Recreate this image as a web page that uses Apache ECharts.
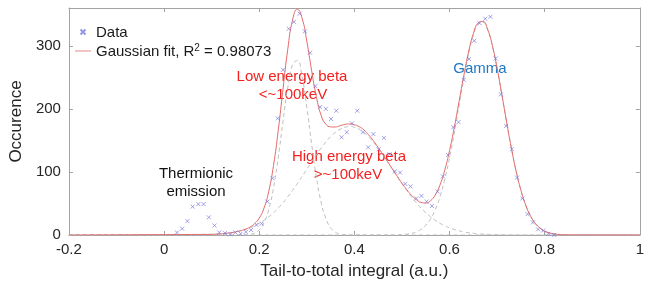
<!DOCTYPE html>
<html>
<head>
<meta charset="utf-8">
<script src="https://cdn.jsdelivr.net/npm/echarts@6/dist/echarts.min.js"></script>
<style>
  html, body { margin: 0; padding: 0; background: #fff; }
  #chart { width: 647px; height: 286px; }
</style>
</head>
<body>
<div id="chart"></div>
<script>
// measured points (Data)
var dataX = [0.027, 0.038, 0.049, 0.060, 0.072, 0.083, 0.094, 0.106, 0.116,
  0.128, 0.139, 0.150, 0.161, 0.172, 0.183, 0.194, 0.205,
  0.217, 0.228, 0.239, 0.250, 0.262, 0.273, 0.285, 0.296,
  0.307, 0.318, 0.328, 0.340, 0.351, 0.362, 0.373, 0.384,
  0.395, 0.406, 0.418, 0.429, 0.440, 0.451, 0.462, 0.474,
  0.485, 0.496, 0.507, 0.518, 0.530, 0.541, 0.552, 0.563,
  0.575, 0.586, 0.597, 0.608, 0.619, 0.630, 0.641, 0.652,
  0.663, 0.675, 0.686, 0.697, 0.708, 0.719, 0.731, 0.742,
  0.753, 0.764, 0.775, 0.786, 0.797, 0.808, 0.820];
var dataY = [4, 10, 22, 45, 49, 49, 28, 15, 4,
  3, 1, 4, 2, 5, 8, 16, 18,
  53, 90, 185, 262, 327, 338, 351, 323,
  289, 236, 203, 200, 184, 197, 155, 163,
  177, 197, 163, 139, 160, 136, 154, 128,
  101, 99, 81, 77, 58, 62, 53, 46,
  69, 93, 127, 171, 179, 246, 279, 308,
  336, 343, 346, 280, 223, 173, 136, 91,
  58, 33, 20, 9, 7, 2, 0];

// fit curves, 0.10 .. 0.86
var fitX = [0.10, 0.11, 0.12, 0.13, 0.14, 0.15, 0.16, 0.17, 0.18, 0.19,
  0.20, 0.21, 0.22, 0.23, 0.24, 0.25, 0.26, 0.27, 0.28, 0.29,
  0.30, 0.31, 0.32, 0.33, 0.34, 0.35, 0.36, 0.37, 0.38, 0.39,
  0.40, 0.41, 0.42, 0.43, 0.44, 0.45, 0.46, 0.47, 0.48, 0.49,
  0.50, 0.51, 0.52, 0.53, 0.54, 0.55, 0.56, 0.57, 0.58, 0.59,
  0.60, 0.61, 0.62, 0.63, 0.64, 0.65, 0.66, 0.67, 0.68, 0.69,
  0.70, 0.71, 0.72, 0.73, 0.74, 0.75, 0.76, 0.77, 0.78, 0.79,
  0.80, 0.81, 0.82, 0.83, 0.84, 0.85, 0.86];
var fitLow = [0, 0, 0, 0, 0, 0, 0, 0.3, 1.0, 3.1,
  8.2, 19.3, 40.3, 74.8, 123.2, 180.2, 234.1, 270.0, 276.6, 251.4,
  202.9, 145.5, 92.6, 52.3, 26.3, 11.7, 4.6, 1.6, 0.5, 0,
  0, 0, 0, 0, 0, 0, 0, 0, 0, 0,
  0, 0, 0, 0, 0, 0, 0, 0, 0, 0,
  0, 0, 0, 0, 0, 0, 0, 0, 0, 0,
  0, 0, 0, 0, 0, 0, 0, 0, 0, 0,
  0, 0, 0, 0, 0, 0, 0];
var fitHigh = [1.0, 1.4, 1.9, 2.7, 3.6, 4.9, 6.6, 8.7, 11.3, 14.6,
  18.5, 23.3, 28.9, 35.4, 42.9, 51.3, 60.6, 70.7, 81.5, 92.8,
  104.3, 115.9, 127.1, 137.8, 147.4, 155.8, 162.7, 167.8, 170.9, 172.0,
  170.9, 167.8, 162.7, 155.8, 147.4, 137.8, 127.1, 115.9, 104.3, 92.8,
  81.5, 70.7, 60.6, 51.3, 42.9, 35.4, 28.9, 23.3, 18.5, 14.6,
  11.3, 8.7, 6.6, 4.9, 3.6, 2.7, 1.9, 1.4, 1.0, 0.7,
  0.5, 0.3, 0.2, 0.1, 0, 0, 0, 0, 0, 0,
  0, 0, 0, 0, 0, 0, 0];
var fitGamma = [0, 0, 0, 0, 0, 0, 0, 0, 0, 0,
  0, 0, 0, 0, 0, 0, 0, 0, 0, 0,
  0, 0, 0, 0, 0, 0, 0, 0, 0, 0,
  0, 0, 0, 0, 0, 0, 0, 0, 0, 0,
  0.6, 1.3, 2.5, 4.8, 8.8, 15.3, 25.3, 40.2, 60.9, 88.4,
  122.4, 161.9, 205.0, 247.9, 286.6, 316.6, 334.3, 337.3, 325.3, 299.8,
  264.1, 222.4, 179.0, 137.7, 101.2, 71.1, 47.7, 30.6, 18.8, 11.0,
  6.2, 3.3, 1.7, 0.8, 0.4, 0.2, 0.1];
var fitSum = [1.0, 1.4, 1.9, 2.7, 3.6, 4.9, 6.6, 9.0, 12.3, 17.7,
  26.7, 42.6, 69.2, 110.2, 166.1, 231.5, 294.7, 340.7, 358.1, 344.2,
  307.2, 261.4, 219.7, 190.1, 175.7, 171.5, 171.3, 173.4, 175.4, 176.1,
  174.9, 171.8, 166.7, 158.8, 149.4, 138.8, 127.6, 116.2, 104.5, 93.1,
  82.1, 72.0, 63.1, 56.1, 51.7, 50.7, 54.2, 63.5, 79.4, 103.0,
  133.7, 170.6, 211.6, 252.8, 290.2, 319.3, 336.2, 338.7, 326.3, 300.5,
  264.6, 222.7, 179.2, 137.8, 101.2, 71.1, 47.7, 30.6, 18.8, 11.0,
  6.2, 3.3, 1.7, 0.8, 0.4, 0.2, 0.1];

var FONT = 'Liberation Sans, Arial, sans-serif';
var AXIS_GREY = '#a3a3a3';
var FIT_NAME = 'Gaussian fit, R\u00b2 = 0.98073';

function pairs(xs, ys) {
  return xs.map(function (x, i) { return [x, ys[i]]; });
}
// curves run along the baseline to both ends of the axis
function curve(ys) {
  return [[-0.2, 0]].concat(pairs(fitX, ys)).concat([[1, 0]]);
}

var myChart = echarts.init(document.getElementById('chart'));

function xAxisCfg(pos, labels) {
  return {
    type: 'value', position: pos, min: -0.2, max: 1, interval: 0.2,
    axisLine: { show: true, onZero: false, lineStyle: { color: AXIS_GREY, width: 1 } },
    axisTick: { show: true, inside: true, length: 4, lineStyle: { color: AXIS_GREY } },
    axisLabel: { show: labels, color: '#262626', fontSize: 15, fontFamily: FONT, margin: 7 },
    splitLine: { show: false }
  };
}
function yAxisCfg(pos, labels) {
  return {
    type: 'value', position: pos, min: 0, max: 360, interval: 100,
    axisLine: { show: true, onZero: false, lineStyle: { color: AXIS_GREY, width: 1 } },
    axisTick: { show: true, inside: true, length: 4, lineStyle: { color: AXIS_GREY } },
    axisLabel: {
      show: labels, color: '#262626', fontSize: 15, fontFamily: FONT, margin: 8,
      showMaxLabel: false,
      formatter: function (v) { return v % 100 === 0 ? String(v) : ''; }
    },
    splitLine: { show: false }
  };
}

var xBottom = xAxisCfg('bottom', true);
xBottom.name = 'Tail-to-total integral (a.u.)';
xBottom.nameLocation = 'middle';
xBottom.nameGap = 28;
xBottom.nameTextStyle = { color: '#262626', fontSize: 17, fontFamily: FONT };

var yLeft = yAxisCfg('left', true);
yLeft.name = 'Occurence';
yLeft.nameLocation = 'middle';
yLeft.nameGap = 38;
yLeft.nameTextStyle = { color: '#262626', fontSize: 17, fontFamily: FONT };

var dashed = { color: '#bdbdbd', width: 1, type: [4, 3] };
var FIT_RED = '#e46b6b';

var option = {
  animation: false,
  grid: { left: 61, right: 4, top: 8, bottom: 51 },
  xAxis: [xBottom, xAxisCfg('top', false)],
  yAxis: [yLeft, yAxisCfg('right', false)],
  legend: {
    data: [
      { name: 'Data' },
      { name: FIT_NAME, icon: 'path://M0,0L20,0L20,1L0,1Z' }
    ],
    orient: 'vertical',
    left: 70, top: 20,
    itemWidth: 16, itemHeight: 5, itemGap: 3,
    formatter: function (name) {
      if (name === FIT_NAME) {
        return '{t|Gaussian fit, R}{s|2}{t| = 0.98073}';
      }
      return '{t|' + name + '}';
    },
    textStyle: {
      color: '#1a1a1a', fontSize: 15, fontFamily: FONT,
      rich: {
        t: { fontSize: 15, fontFamily: FONT, color: '#1a1a1a', lineHeight: 16, verticalAlign: 'bottom' },
        s: { fontSize: 10, fontFamily: FONT, color: '#1a1a1a', lineHeight: 16, verticalAlign: 'top' }
      }
    }
  },
  series: [
    { name: 'low', type: 'line', data: curve(fitLow), symbol: 'none', smooth: true, lineStyle: dashed, z: 1 },
    { name: 'high', type: 'line', data: curve(fitHigh), symbol: 'none', smooth: true, lineStyle: dashed, z: 1 },
    { name: 'gamma', type: 'line', data: curve(fitGamma), symbol: 'none', smooth: true, lineStyle: dashed, z: 1 },
    {
      name: FIT_NAME, type: 'line', data: curve(fitSum), symbol: 'none', smooth: true,
      itemStyle: { color: FIT_RED },
      lineStyle: { color: FIT_RED, width: 1 }, z: 2
    },
    {
      name: 'Data', type: 'scatter', data: pairs(dataX, dataY),
      symbol: 'path://M0,0L10,10M0,10L10,0', symbolSize: 4,
      itemStyle: { color: 'rgba(0,0,0,0)', borderColor: '#7a7ae0', borderWidth: 0.9 },
      z: 3
    }
  ],
  graphic: [
    { type: 'text', x: 196, y: 174, style: { text: 'Thermionic', fill: '#111', fontSize: 15, fontFamily: FONT, align: 'center', verticalAlign: 'middle' } },
    { type: 'text', x: 196, y: 192, style: { text: 'emission', fill: '#111', fontSize: 15, fontFamily: FONT, align: 'center', verticalAlign: 'middle' } },
    { type: 'text', x: 292, y: 77, style: { text: 'Low energy beta', fill: '#f2201f', fontSize: 15, fontFamily: FONT, align: 'center', verticalAlign: 'middle' } },
    { type: 'text', x: 293, y: 95, style: { text: '<~100keV', fill: '#f2201f', fontSize: 15, fontFamily: FONT, align: 'center', verticalAlign: 'middle' } },
    { type: 'text', x: 349, y: 157, style: { text: 'High energy beta', fill: '#f2201f', fontSize: 15, fontFamily: FONT, align: 'center', verticalAlign: 'middle' } },
    { type: 'text', x: 348, y: 175, style: { text: '>~100keV', fill: '#f2201f', fontSize: 15, fontFamily: FONT, align: 'center', verticalAlign: 'middle' } },
    { type: 'text', x: 480, y: 69, style: { text: 'Gamma', fill: '#1f78c4', fontSize: 15, fontFamily: FONT, align: 'center', verticalAlign: 'middle' } }
  ]
};

myChart.setOption(option);
window.addEventListener('resize', function () {
  myChart.resize();
});
</script>
</body>
</html>
